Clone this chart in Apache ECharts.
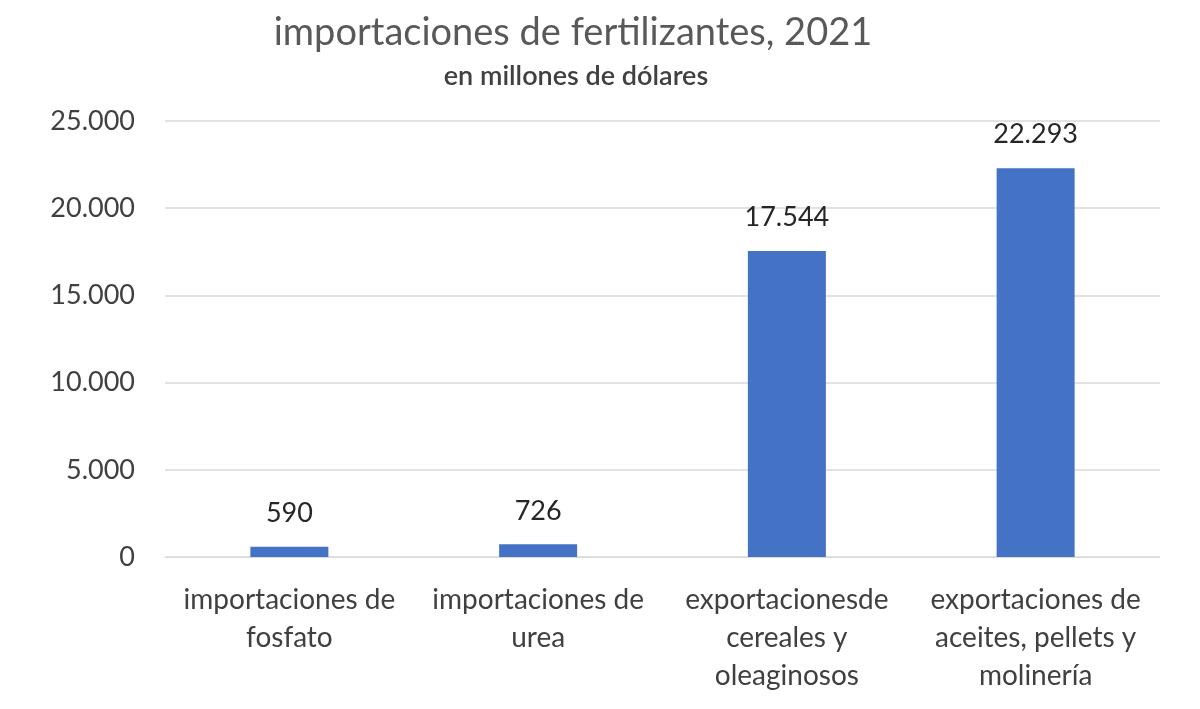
<!DOCTYPE html>
<html>
<head>
<meta charset="utf-8">
<script src="https://cdn.jsdelivr.net/npm/echarts@6/dist/echarts.min.js"></script>
<style>
  html, body { margin: 0; padding: 0; background: #fff; }
  #chart { width: 1200px; height: 709px; }
</style>
</head>
<body>
<div id="chart"></div>
<script>
var categories = [
    'importaciones de\nfosfato',
    'importaciones de\nurea',
    'exportacionesde\ncereales y\noleaginosos',
    'exportaciones de\naceites, pellets y\nmolinería'
];
var values = [590, 726, 17544, 22293];
var yTicks = [0, 5000, 10000, 15000, 20000, 25000];

function puntos(v) {
    return String(v).replace(/\B(?=(\d{3})+(?!\d))/g, '.');
}

var chart = echarts.init(document.getElementById('chart'));
var option = {
    backgroundColor: '#fff',
    textStyle: { fontFamily: 'Lato' },
    title: [{
        text: 'importaciones de fertilizantes, 2021',
        left: 568,
        top: 9,
        textAlign: 'center',
        textStyle: { fontSize: 38, fontWeight: 'normal', color: '#595959', fontFamily: 'Lato' }
    }, {
        text: 'en millones de dólares',
        left: 571,
        top: 58,
        textAlign: 'center',
        textStyle: { fontSize: 27, fontWeight: 600, color: '#404040', fontFamily: 'Lato' }
    }],
    grid: { left: 165, right: 40, top: 121, bottom: 152 },
    xAxis: {
        type: 'category',
        data: categories,
        axisLine: { lineStyle: { color: '#d9d9d9' } },
        axisTick: { show: false },
        axisLabel: {
            interval: 0,
            margin: 24,
            fontSize: 28,
            lineHeight: 38,
            color: '#404040'
        }
    },
    yAxis: {
        type: 'value',
        min: yTicks[0],
        max: yTicks[yTicks.length - 1],
        interval: 5000,
        axisLine: { show: false },
        axisTick: { show: false },
        splitLine: { lineStyle: { color: '#d9d9d9', width: 1.5 } },
        axisLabel: {
            margin: 30,
            fontSize: 27,
            color: '#404040',
            formatter: function (v) { return puntos(v); }
        }
    },
    series: [{
        type: 'bar',
        data: values,
        barWidth: 78,
        itemStyle: { color: '#4472C4' },
        label: {
            show: true,
            position: 'top',
            distance: 20,
            fontSize: 27,
            color: '#262626',
            formatter: function (p) { return puntos(p.value); }
        }
    }]
};
chart.setOption(option);
</script>
</body>
</html>
